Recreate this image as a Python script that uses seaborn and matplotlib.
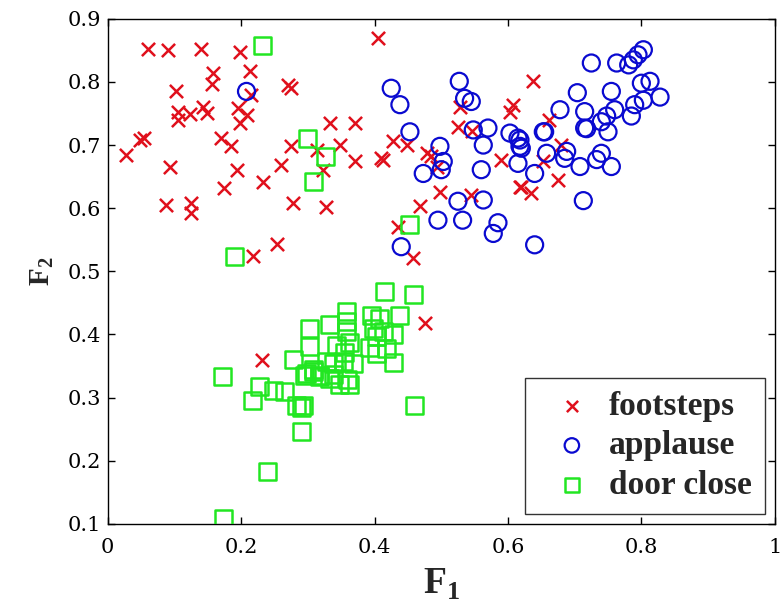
import numpy as np
import matplotlib
matplotlib.use("Agg")
import matplotlib.pyplot as plt
import seaborn as sns

# footsteps (red x)
foot_x = [0.060, 0.090, 0.140, 0.198, 0.405, 0.158, 0.157, 0.213, 0.102, 0.270, 0.275,
          0.106, 0.123, 0.143, 0.149, 0.105, 0.195, 0.208, 0.198, 0.333, 0.370, 0.048,
          0.055, 0.028, 0.170, 0.185, 0.275, 0.313, 0.348, 0.370, 0.323, 0.260, 0.093,
          0.193, 0.233, 0.175, 0.088, 0.125, 0.125, 0.278, 0.327, 0.217, 0.253, 0.231,
          0.637, 0.608, 0.603, 0.528, 0.525, 0.546, 0.590, 0.620, 0.635, 0.428, 0.448,
          0.410, 0.412, 0.478, 0.485, 0.493, 0.498, 0.545, 0.468, 0.662, 0.680, 0.653,
          0.675, 0.618, 0.435, 0.458, 0.475, 0.215]
foot_y = [0.852, 0.851, 0.852, 0.847, 0.869, 0.814, 0.797, 0.817, 0.786, 0.795, 0.790,
          0.753, 0.750, 0.761, 0.751, 0.740, 0.758, 0.748, 0.735, 0.735, 0.735, 0.708,
          0.711, 0.685, 0.711, 0.699, 0.698, 0.692, 0.700, 0.674, 0.661, 0.669, 0.666,
          0.661, 0.642, 0.632, 0.605, 0.608, 0.592, 0.608, 0.602, 0.524, 0.543, 0.360,
          0.801, 0.764, 0.753, 0.761, 0.729, 0.722, 0.677, 0.634, 0.624, 0.706, 0.700,
          0.679, 0.677, 0.687, 0.682, 0.666, 0.626, 0.621, 0.603, 0.740, 0.700, 0.674,
          0.645, 0.634, 0.571, 0.521, 0.418, 0.780]

# applause (blue o)
app_x = [0.208, 0.425, 0.438, 0.527, 0.535, 0.545, 0.453, 0.548, 0.570, 0.563, 0.603,
         0.618, 0.620, 0.653, 0.615, 0.640, 0.498, 0.503, 0.500, 0.473, 0.560, 0.525,
         0.563, 0.803, 0.795, 0.788, 0.781, 0.763, 0.725, 0.813, 0.800, 0.828, 0.803,
         0.790, 0.785, 0.755, 0.704, 0.760, 0.748, 0.740, 0.715, 0.715, 0.718, 0.750,
         0.678, 0.655, 0.615, 0.618, 0.658, 0.688, 0.685, 0.708, 0.740, 0.733, 0.755,
         0.713, 0.495, 0.532, 0.585, 0.578, 0.640, 0.440]
app_y = [0.785, 0.790, 0.764, 0.801, 0.774, 0.769, 0.721, 0.724, 0.727, 0.700, 0.719,
         0.708, 0.695, 0.721, 0.671, 0.655, 0.698, 0.674, 0.661, 0.655, 0.661, 0.611,
         0.613, 0.851, 0.843, 0.835, 0.827, 0.830, 0.830, 0.801, 0.798, 0.776, 0.771,
         0.764, 0.746, 0.785, 0.783, 0.756, 0.746, 0.737, 0.753, 0.727, 0.726, 0.721,
         0.756, 0.721, 0.711, 0.698, 0.687, 0.690, 0.679, 0.666, 0.687, 0.677, 0.666,
         0.612, 0.581, 0.581, 0.577, 0.560, 0.542, 0.539]

# door close (green squares)
door_x = [0.232, 0.300, 0.327, 0.308, 0.190, 0.453, 0.415, 0.459, 0.172, 0.227, 0.248,
          0.265, 0.217, 0.283, 0.290, 0.290, 0.240, 0.174, 0.302, 0.333, 0.302, 0.278,
          0.295, 0.308, 0.318, 0.333, 0.348, 0.328, 0.343, 0.358, 0.358, 0.358, 0.353,
          0.395, 0.408, 0.438, 0.398, 0.413, 0.403, 0.428, 0.363, 0.355, 0.393, 0.403,
          0.418, 0.428, 0.368, 0.338, 0.308, 0.298, 0.318, 0.338, 0.360, 0.363, 0.460,
          0.293]
door_y = [0.857, 0.711, 0.682, 0.642, 0.523, 0.574, 0.468, 0.463, 0.334, 0.317, 0.312,
          0.310, 0.296, 0.288, 0.285, 0.247, 0.183, 0.109, 0.410, 0.415, 0.381, 0.360,
          0.335, 0.341, 0.335, 0.330, 0.320, 0.357, 0.383, 0.436, 0.420, 0.405, 0.357,
          0.430, 0.425, 0.430, 0.410, 0.405, 0.397, 0.400, 0.387, 0.372, 0.380, 0.370,
          0.378, 0.356, 0.354, 0.354, 0.344, 0.338, 0.333, 0.336, 0.328, 0.320, 0.288,
          0.288]

sns.set_theme(style="ticks")
plt.rcParams["font.family"] = ["Liberation Serif", "DejaVu Serif"]
plt.rcParams["mathtext.fontset"] = "custom"
plt.rcParams["mathtext.rm"] = "Liberation Serif"
plt.rcParams["mathtext.bf"] = "Liberation Serif:bold"

fig = plt.figure(figsize=(7.81, 6.07), dpi=100)
ax = fig.add_axes([0.138, 0.137, 0.854, 0.832])

red = "#e0101c"
blue = "#0a0ad0"
green = "#22e622"

sns.scatterplot(x=foot_x, y=foot_y, ax=ax, marker="x", color=red, s=90,
                linewidth=1.8, label="footsteps", zorder=3)
sns.scatterplot(x=app_x, y=app_y, ax=ax, marker="o", s=150, facecolor="none",
                edgecolor=blue, linewidth=1.6, label="applause", zorder=3)
sns.scatterplot(x=door_x, y=door_y, ax=ax, marker="s", s=150, facecolor="none",
                edgecolor=green, linewidth=1.8, label="door close", zorder=3)

ax.set_xlim(0, 1)
ax.set_ylim(0.1, 0.9)
ax.set_xticks([0, 0.2, 0.4, 0.6, 0.8, 1])
ax.set_xticklabels(["0", "0.2", "0.4", "0.6", "0.8", "1"])
ax.set_yticks(np.arange(0.1, 0.91, 0.1))
ax.set_yticklabels(["%.1f" % v for v in np.arange(0.1, 0.91, 0.1)])
ax.tick_params(direction="in", length=5, width=1, top=True, right=True,
               colors="black")
ax.tick_params(axis="y", pad=5)
ax.tick_params(axis="x", pad=10)
for lab in ax.get_xticklabels() + ax.get_yticklabels():
    lab.set_family(["DejaVu Serif"])
    lab.set_fontsize(15)
for sp in ax.spines.values():
    sp.set_visible(True)
    sp.set_linewidth(1)
    sp.set_color("black")

ax.set_xlabel(r"$\mathbf{F}_\mathbf{1}$", fontsize=27, labelpad=7)
ax.set_ylabel(r"$\mathbf{F}_\mathbf{2}$", fontsize=21, labelpad=8)

leg = ax.legend(loc="lower right", prop={"weight": "bold", "size": 24},
                frameon=True, fancybox=False, edgecolor="black",
                borderaxespad=0.3, handletextpad=0.1, labelspacing=0.25,
                borderpad=0.4, markerscale=0.85, handlelength=2.0)
leg.get_frame().set_linewidth(1)

fig.savefig("out.png", dpi=100, facecolor="white")
